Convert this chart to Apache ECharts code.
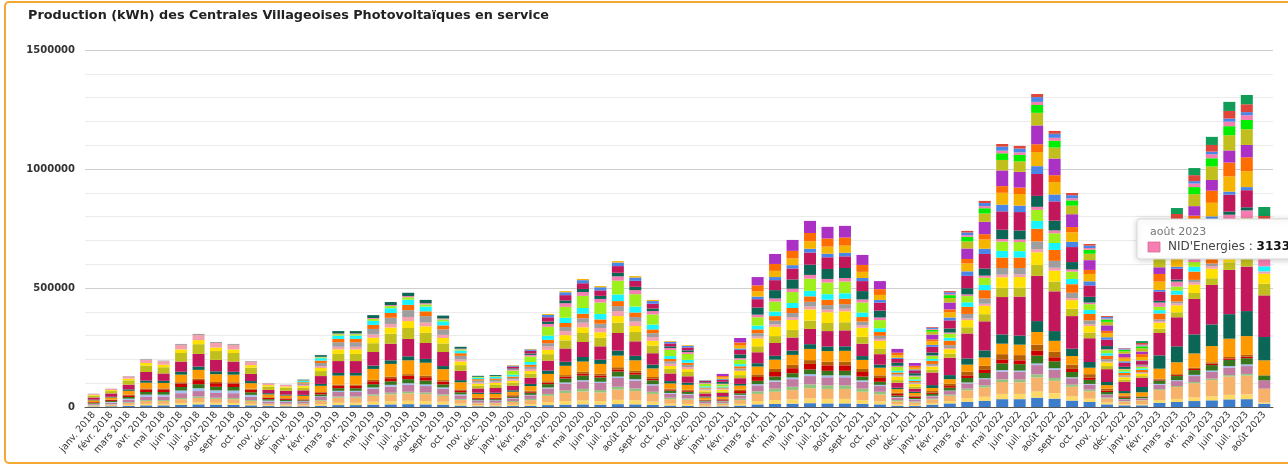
<!DOCTYPE html>
<html>
<head>
<meta charset="utf-8">
<script src="https://cdn.jsdelivr.net/npm/echarts@6/dist/echarts.min.js"></script>
<style>
html,body{margin:0;padding:0;background:#fff;}
#chart{width:1288px;height:466px;}
</style>
</head>
<body>
<div id="chart"></div>
<script>
const chartTitle = "Production (kWh) des Centrales Villageoises Photovoltaïques en service";
const months = ['janv. 2018','févr. 2018','mars 2018','avr. 2018','mai 2018','juin 2018','juil. 2018','août 2018','sept. 2018','oct. 2018','nov. 2018','déc. 2018',
'janv. 2019','févr. 2019','mars 2019','avr. 2019','mai 2019','juin 2019','juil. 2019','août 2019','sept. 2019','oct. 2019','nov. 2019','déc. 2019',
'janv. 2020','févr. 2020','mars 2020','avr. 2020','mai 2020','juin 2020','juil. 2020','août 2020','sept. 2020','oct. 2020','nov. 2020','déc. 2020',
'janv. 2021','févr. 2021','mars 2021','avr. 2021','mai 2021','juin 2021','juil. 2021','août 2021','sept. 2021','oct. 2021','nov. 2021','déc. 2021',
'janv. 2022','févr. 2022','mars 2022','avr. 2022','mai 2022','juin 2022','juil. 2022','août 2022','sept. 2022','oct. 2022','nov. 2022','déc. 2022',
'janv. 2023','févr. 2023','mars 2023','avr. 2023','mai 2023','juin 2023','juil. 2023','août 2023'];
const yTicks = [0, 500000, 1000000, 1500000];

const s01 = [2000,3000,5000,7000,7000,9000,11000,10000,9000,7000,4000,3000, 3000,5000,8000,8000,10000,11000,12000,11000,10000,6000,3000,3000, 4000,5000,8000,10000,11000,10000,12000,11000,9000,6000,5000,2000, 3000,6000,11000,13000,14000,16000,15000,15000,13000,11000,5000,4000, 10000,15000,22000,26000,33000,33000,39000,35000,27000,21000,11000,7000, 7000,18000,21000,25000,28000,32000,33000,14000];
const s02 = [2000,2000,4000,6000,6000,8000,9000,8000,8000,6000,3000,3000, 3000,7000,10000,10000,12000,13000,14000,14000,12000,8000,4000,4000, 5000,7000,12000,15000,16000,15000,18000,17000,14000,8000,8000,3000, 3000,7000,14000,16000,18000,20000,19000,19000,16000,13000,6000,5000, 7000,10000,15000,17000,22000,22000,26000,23000,18000,14000,8000,5000, 4000,11000,13000,15000,17000,19000,20000,5000];
const s03 = [3000,5000,8000,12000,12000,16000,18000,16000,16000,12000,6000,6000, 7000,14000,21000,21000,25000,29000,31000,29000,25000,16000,9000,9000, 12000,17000,27000,34000,38000,36000,43000,39000,32000,19000,18000,8000, 8000,16000,30000,35000,39000,43000,42000,42000,35000,29000,13000,10000, 15000,22000,33000,39000,50000,49000,59000,52000,40000,31000,17000,11000, 17000,42000,50000,60000,68000,77000,79000,58000];
const s04 = [1000,2000,3000,4000,4000,5000,6000,5000,5000,4000,2000,2000, 2000,3000,5000,5000,6000,7000,7000,7000,6000,4000,2000,2000, 4000,5000,8000,10000,11000,10000,12000,11000,9000,6000,5000,2000, 3000,6000,11000,13000,14000,16000,15000,15000,13000,11000,5000,4000, 3000,5000,7000,9000,11000,11000,13000,12000,9000,7000,4000,2000, 1000,4000,4000,5000,6000,6000,7000,0];
const s05 = [4000,6000,10000,15000,15000,20000,23000,20000,20000,14000,8000,7000, 7000,13000,19000,19000,23000,26000,29000,27000,23000,15000,8000,8000, 11000,15000,23000,29000,32000,30000,37000,33000,27000,17000,16000,7000, 6000,13000,25000,29000,32000,35000,34000,34000,29000,24000,11000,8000, 10000,15000,22000,26000,33000,33000,39000,35000,27000,21000,11000,7000, 7000,18000,21000,25000,28000,32000,33000,35000];
const s06 = [2000,3000,5000,8000,8000,11000,12000,11000,11000,8000,4000,4000, 2000,3000,5000,5000,6000,7000,7000,7000,6000,4000,2000,2000, 2000,2000,4000,5000,5000,5000,6000,6000,5000,3000,3000,1000, 1000,3000,5000,6000,7000,8000,8000,8000,6000,5000,2000,2000, 2000,2000,4000,4000,6000,5000,7000,6000,4000,3000,2000,1000, 1000,4000,4000,5000,6000,6000,7000,0];
const s07 = [3000,4000,7000,11000,11000,15000,17000,15000,15000,11000,6000,5000, 4000,8000,11000,11000,14000,15000,17000,16000,13000,9000,5000,5000, 6000,9000,14000,17000,19000,18000,21000,19000,16000,10000,9000,4000, 3000,7000,14000,16000,18000,20000,19000,19000,16000,13000,6000,5000, 8000,12000,19000,22000,28000,27000,33000,29000,22000,17000,10000,6000, 6000,14000,17000,20000,23000,26000,26000,21000];
const s08 = [3000,4000,7000,11000,11000,15000,17000,15000,15000,11000,6000,5000, 3000,7000,10000,10000,12000,13000,14000,14000,12000,8000,4000,4000, 3000,4000,6000,7000,8000,8000,9000,8000,7000,4000,4000,2000, 4000,9000,16000,19000,21000,23000,23000,23000,19000,16000,7000,6000, 5000,7000,11000,13000,17000,16000,20000,17000,13000,10000,6000,4000, 1000,4000,4000,5000,6000,6000,7000,0];
const s09 = [1000,2000,3000,4000,4000,5000,6000,5000,5000,4000,2000,2000, 2000,3000,5000,5000,6000,7000,7000,7000,6000,4000,2000,2000, 3000,4000,6000,7000,8000,8000,9000,8000,7000,4000,4000,2000, 3000,6000,11000,13000,14000,16000,15000,15000,13000,11000,5000,4000, 7000,10000,15000,17000,22000,22000,26000,23000,18000,14000,8000,5000, 1000,4000,4000,5000,6000,6000,7000,0];
const s10 = [7000,9000,16000,24000,23000,32000,37000,33000,32000,23000,12000,11000, 14000,26000,38000,38000,46000,53000,58000,54000,46000,30000,16000,16000, 14000,20000,31000,39000,43000,41000,49000,44000,36000,22000,21000,9000, 8000,17000,33000,39000,42000,47000,45000,46000,38000,32000,15000,11000, 13000,19000,30000,35000,44000,44000,53000,46000,36000,27000,15000,10000, 17000,42000,50000,60000,68000,77000,79000,63000];
const s11 = [3000,3000,6000,9000,9000,12000,14000,12000,12000,9000,5000,4000, 4000,8000,11000,11000,14000,15000,17000,16000,13000,9000,5000,5000, 6000,9000,14000,17000,19000,18000,21000,19000,16000,10000,9000,4000, 3000,7000,14000,16000,18000,20000,19000,19000,16000,13000,6000,5000, 12000,17000,26000,30000,39000,38000,46000,41000,31000,24000,13000,9000, 22000,56000,67000,80000,91000,103000,105000,98000];
const s12 = [9000,14000,20000,36000,31000,43000,53000,48000,43000,30000,14000,16000, 19000,33000,50000,50000,57000,70000,73000,67000,59000,39000,18000,20000, 20000,26000,42000,56000,63000,56000,74000,61000,48000,32000,27000,13000, 14000,24000,46000,54000,55000,64000,65000,67000,52000,44000,21000,13000, 53000,73000,105000,122000,157000,164000,190000,167000,137000,100000,54000,39000, 39000,94000,122000,149000,166000,186000,187000,175000];
const s13 = [8000,10000,18000,27000,26000,36000,41000,37000,36000,26000,14000,13000, 11000,21000,30000,30000,37000,42000,46000,43000,36000,24000,12000,13000, 12000,17000,27000,34000,38000,36000,43000,39000,32000,19000,18000,8000, 6000,13000,25000,29000,32000,35000,34000,34000,29000,24000,11000,8000, 12000,17000,26000,30000,39000,38000,46000,41000,31000,24000,13000,9000, 7000,18000,21000,25000,28000,32000,33000,49000];
const s14 = [3000,4000,7000,11000,11000,15000,17000,15000,15000,11000,6000,5000, 7000,13000,19000,19000,23000,26000,29000,27000,23000,15000,8000,8000, 8000,11000,18000,22000,24000,23000,28000,25000,20000,12000,12000,5000, 8000,17000,33000,39000,42000,47000,45000,46000,38000,32000,15000,11000, 13000,19000,30000,35000,44000,44000,53000,46000,36000,27000,15000,10000, 10000,25000,29000,35000,40000,45000,46000,42000];
const s15 = [4000,5000,9000,14000,14000,19000,21000,19000,19000,14000,7000,7000, 4000,8000,11000,11000,14000,15000,17000,16000,13000,9000,5000,5000, 6000,9000,14000,17000,19000,18000,21000,19000,16000,10000,9000,4000, 2000,4000,8000,10000,11000,12000,11000,11000,10000,8000,4000,3000, 3000,5000,7000,9000,11000,11000,13000,12000,9000,7000,4000,2000, 3000,7000,8000,10000,11000,13000,13000,10000];
const s16 = [1000,1000,2000,3000,3000,4000,5000,4000,4000,3000,2000,1000, 7000,13000,19000,19000,23000,26000,29000,27000,23000,15000,8000,8000, 6000,9000,14000,17000,19000,18000,21000,19000,16000,10000,9000,4000, 3000,7000,14000,16000,18000,20000,19000,19000,16000,13000,6000,5000, 8000,12000,19000,22000,28000,27000,33000,29000,22000,17000,10000,6000, 3000,7000,8000,10000,11000,13000,13000,0];
const s17 = [0,0,0,0,0,0,0,0,0,0,0,0, 5000,10000,14000,14000,17000,20000,22000,20000,17000,11000,6000,6000, 6000,9000,14000,17000,19000,18000,21000,19000,16000,10000,9000,4000, 4000,9000,16000,19000,21000,23000,23000,23000,19000,16000,7000,6000, 13000,19000,30000,35000,44000,44000,53000,46000,36000,27000,15000,10000, 10000,25000,29000,35000,40000,45000,46000,0];
const s18 = [0,0,0,0,0,0,0,0,0,0,0,0, 5000,10000,14000,14000,17000,20000,22000,20000,17000,11000,6000,6000, 8000,11000,18000,22000,24000,23000,28000,25000,20000,12000,12000,5000, 4000,9000,16000,19000,21000,23000,23000,23000,19000,16000,7000,6000, 8000,12000,19000,22000,28000,27000,33000,29000,22000,17000,10000,6000, 6000,14000,17000,20000,23000,26000,26000,21000];
const s19 = [0,0,0,0,0,0,0,0,0,0,0,0, 2000,4000,6000,6000,8000,9000,10000,9000,8000,5000,3000,3000, 17000,23000,37000,46000,51000,48000,58000,52000,43000,26000,25000,11000, 9000,19000,35000,42000,46000,51000,49000,49000,42000,34000,16000,12000, 12000,17000,26000,30000,39000,38000,46000,41000,31000,24000,13000,9000, 6000,14000,17000,20000,23000,26000,26000,0];
const s20 = [0,0,0,0,0,0,0,0,0,0,0,0, 1000,2000,3000,3000,4000,4000,5000,5000,4000,3000,1000,1000, 5000,7000,12000,15000,16000,15000,18000,17000,14000,8000,8000,3000, 3000,6000,11000,13000,14000,16000,15000,15000,13000,11000,5000,4000, 3000,5000,7000,9000,11000,11000,13000,12000,9000,7000,4000,2000, 7000,18000,21000,25000,28000,32000,33000,31331];
const s21 = [0,0,0,0,0,0,0,0,0,0,0,0, 3000,7000,10000,10000,12000,13000,14000,14000,12000,8000,4000,4000, 4000,6000,10000,12000,13000,13000,15000,14000,11000,7000,7000,3000, 8000,16000,30000,35000,39000,43000,42000,42000,35000,29000,13000,10000, 12000,17000,26000,30000,39000,38000,46000,41000,31000,24000,13000,9000, 3000,7000,8000,10000,11000,13000,13000,0];
const s22 = [0,0,0,0,0,0,0,0,0,0,0,0, 0,0,0,0,0,0,0,0,0,0,0,0, 8000,11000,18000,22000,24000,23000,28000,25000,20000,12000,12000,5000, 9000,19000,35000,42000,46000,51000,49000,49000,42000,34000,16000,12000, 24000,34000,52000,61000,77000,77000,92000,81000,63000,48000,27000,17000, 15000,39000,46000,55000,62000,71000,72000,52000];
const s23 = [0,0,0,0,0,0,0,0,0,0,0,0, 0,0,0,0,0,0,0,0,0,0,0,0, 4000,6000,10000,12000,13000,13000,15000,14000,11000,7000,7000,3000, 3000,6000,11000,13000,14000,16000,15000,15000,13000,11000,5000,4000, 8000,12000,19000,22000,28000,27000,33000,29000,22000,17000,10000,6000, 3000,7000,8000,10000,11000,13000,13000,0];
const s24 = [0,0,0,0,0,0,0,0,0,0,0,0, 0,0,0,0,0,0,0,0,0,0,0,0, 2000,2000,4000,5000,5000,5000,6000,6000,5000,3000,3000,1000, 6000,12000,22000,26000,28000,31000,30000,30000,26000,21000,10000,7000, 15000,22000,33000,39000,50000,49000,59000,52000,40000,31000,17000,11000, 14000,35000,42000,50000,57000,64000,66000,20000];
const s25 = [0,0,0,0,0,0,0,0,0,0,0,0, 0,0,0,0,0,0,0,0,0,0,0,0, 0,0,0,0,0,0,0,0,0,0,0,0, 6000,13000,25000,29000,32000,35000,34000,34000,29000,24000,11000,8000, 8000,12000,19000,22000,28000,27000,33000,29000,22000,17000,10000,6000, 12000,32000,38000,45000,51000,58000,59000,25000];
const s26 = [0,0,0,0,0,0,0,0,0,0,0,0, 0,0,0,0,0,0,0,0,0,0,0,0, 0,0,0,0,0,0,0,0,0,0,0,0, 9000,19000,35000,42000,46000,51000,49000,49000,42000,34000,16000,12000, 20000,29000,44000,52000,66000,66000,79000,70000,54000,41000,23000,15000, 11000,28000,33000,40000,45000,51000,52000,25000];
const s27 = [0,0,0,0,0,0,0,0,0,0,0,0, 0,0,0,0,0,0,0,0,0,0,0,0, 0,0,0,0,0,0,0,0,0,0,0,0, 0,0,0,0,0,0,0,0,0,0,0,0, 13000,19000,30000,35000,44000,44000,53000,46000,36000,27000,15000,10000, 14000,35000,42000,50000,57000,64000,66000,30000];
const s28 = [0,0,0,0,0,0,0,0,0,0,0,0, 0,0,0,0,0,0,0,0,0,0,0,0, 0,0,0,0,0,0,0,0,0,0,0,0, 0,0,0,0,0,0,0,0,0,0,0,0, 8000,12000,19000,22000,28000,27000,33000,29000,22000,17000,10000,6000, 8000,21000,25000,30000,34000,38000,39000,15000];
const s29 = [0,0,0,0,0,0,0,0,0,0,0,0, 0,0,0,0,0,0,0,0,0,0,0,0, 0,0,0,0,0,0,0,0,0,0,0,0, 0,0,0,0,0,0,0,0,0,0,0,0, 3000,5000,7000,9000,11000,11000,13000,12000,9000,7000,4000,2000, 4000,11000,13000,15000,17000,19000,20000,0];
const s30 = [0,0,0,0,0,0,0,0,0,0,0,0, 0,0,0,0,0,0,0,0,0,0,0,0, 0,0,0,0,0,0,0,0,0,0,0,0, 0,0,0,0,0,0,0,0,0,0,0,0, 5000,7000,11000,13000,17000,16000,20000,17000,13000,10000,6000,4000, 3000,7000,8000,10000,11000,13000,13000,0];
const s31 = [0,0,0,0,0,0,0,0,0,0,0,0, 0,0,0,0,0,0,0,0,0,0,0,0, 0,0,0,0,0,0,0,0,0,0,0,0, 0,0,0,0,0,0,0,0,0,0,0,0, 3000,5000,7000,9000,11000,11000,13000,12000,9000,7000,4000,2000, 7000,18000,21000,25000,28000,32000,33000,13000];
const s32 = [0,0,0,0,0,0,0,0,0,0,0,0, 0,0,0,0,0,0,0,0,0,0,0,0, 0,0,0,0,0,0,0,0,0,0,0,0, 0,0,0,0,0,0,0,0,0,0,0,0, 0,0,0,0,0,0,0,0,0,0,0,0, 8000,21000,25000,30000,34000,38000,39000,38000];

const seriesNames = ['Centrale 01','Centrale 02','Centrale 03','Centrale 04','Centrale 05','Centrale 06','Centrale 07','Centrale 08','Centrale 09','Centrale 10','Centrale 11','Centrale 12','Centrale 13','Centrale 14','Centrale 15','Centrale 16','Centrale 17','Centrale 18','Centrale 19',"NID'Energies",'Centrale 21','Centrale 22','Centrale 23','Centrale 24','Centrale 25','Centrale 26','Centrale 27','Centrale 28','Centrale 29','Centrale 30','Centrale 31','Centrale 32'];
const seriesValues = [s01,s02,s03,s04,s05,s06,s07,s08,s09,s10,s11,s12,s13,s14,s15,s16,s17,s18,s19,s20,s21,s22,s23,s24,s25,s26,s27,s28,s29,s30,s31,s32];
const seriesColors = ['#3d7dca','#ffd966','#f6b26b','#93c47d','#c27ba0','#a4c2f4','#38761d','#cc0000','#b45f06','#ff9900','#0b6655','#c2185b','#c0bf1e','#ffe100','#f4a0ae','#9e9e9e','#ff6d00','#18f5ff','#9ef01c','#f77eb0','#0b6655','#c2185b','#4a86e8','#f4b400','#ff6d00','#ab30c4','#c0bf1e','#00ee00','#f77eb0','#4a86e8','#e0453a','#0f9d58'];

const tipMonth = 67;
const tipSeries = 19;

const FONT = 'DejaVu Sans';
const chart = echarts.init(document.getElementById('chart'), null, {renderer:'canvas'});
const TZ = 500;
const option = {
  backgroundColor: '#ffffff',
  animation: false,
  title: {
    text: chartTitle, left: 28, top: 9, padding: 0,
    textStyle: {fontFamily: FONT, fontSize: 12.8, fontWeight: 'bold', color: '#222'}
  },
  grid: {left: 85, right: 15, top: 50, bottom: 59},
  xAxis: {
    type: 'category', data: months,
    axisTick: {show: false},
    axisLine: {lineStyle: {color: '#555', width: 1}},
    axisLabel: {interval: 0, rotate: 50, fontFamily: FONT, fontSize: 9.5, color: '#333', margin: 6}
  },
  yAxis: {
    type: 'value', min: 0, max: 1500000, interval: 100000,
    axisLine: {show: false}, axisTick: {show: false},
    axisLabel: {
      formatter: v => yTicks.indexOf(v) >= 0 ? String(v) : '',
      fontFamily: FONT, fontSize: 10, fontWeight: 'bold', color: '#333', margin: 10
    },
    splitLine: {lineStyle: {color: ['#cfcfcf','#ebebeb','#ebebeb','#ebebeb','#ebebeb'], width: 1}}
  },
  series: seriesValues.map((vals, i) => ({
    name: seriesNames[i], type: 'bar', stack: 'total', data: vals,
    barWidth: 12,
    itemStyle: {color: seriesColors[i]},
    emphasis: {disabled: true}
  })),
  graphic: [
    {type: 'rect', silent: true, z: TZ + 10,
     shape: {x: 5, y: 2, width: 1300, height: 461, r: 4},
     style: {fill: 'none', stroke: '#f5a733', lineWidth: 2}},
    {type: 'rect', silent: true, z: TZ,
     shape: {x: 1137, y: 219, width: 170, height: 40, r: 3},
     style: {fill: '#ffffff', stroke: '#d9d9d9', lineWidth: 1, shadowBlur: 6, shadowColor: 'rgba(0,0,0,0.18)', shadowOffsetY: 1}},
    {type: 'text', silent: true, z: TZ + 1, x: 1150, y: 232,
     style: {text: months[tipMonth], fontFamily: FONT, fontSize: 11, fill: '#777', verticalAlign: 'middle'}},
    {type: 'rect', silent: true, z: TZ + 1, shape: {x: 1148, y: 242, width: 12, height: 10},
     style: {fill: seriesColors[tipSeries], stroke: '#d46a98', lineWidth: 0.8}},
    {type: 'text', silent: true, z: TZ + 1, x: 1168, y: 247,
     style: {
       text: '{a|' + seriesNames[tipSeries] + ' : }{b|' + seriesValues[tipSeries][tipMonth] + '}',
       verticalAlign: 'middle',
       rich: {
         a: {fontFamily: FONT, fontSize: 12, fill: '#444'},
         b: {fontFamily: FONT, fontSize: 12, fontWeight: 'bold', fill: '#111'}
       }
     }}
  ]
};
chart.setOption(option);
</script>
</body>
</html>
